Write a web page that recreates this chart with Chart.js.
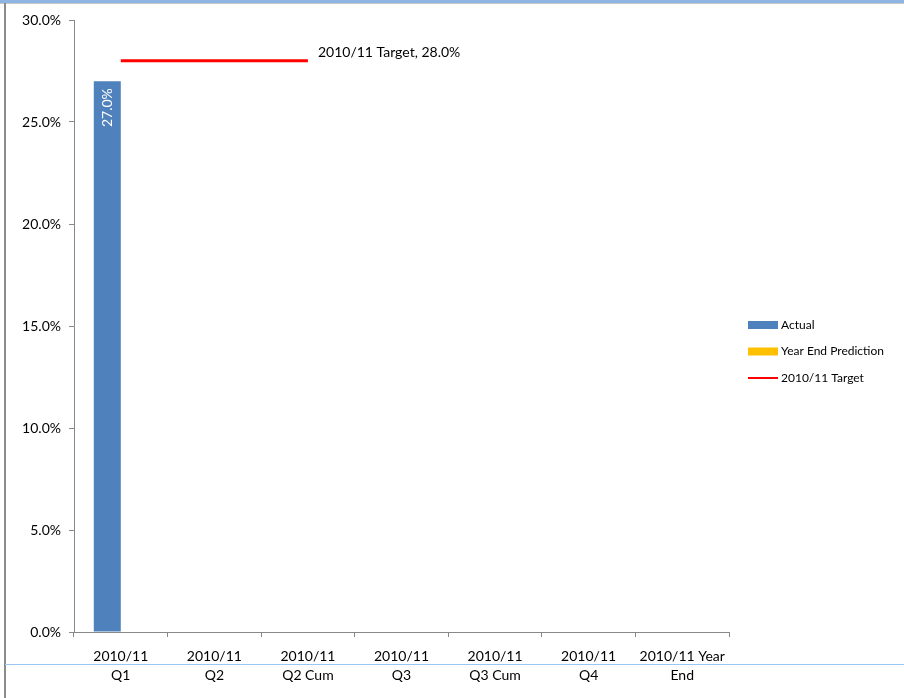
<!DOCTYPE html>
<html lang="en">
<head>
  <meta charset="UTF-8" />
  <title>2010/11 Target chart</title>
  <script src="https://cdn.jsdelivr.net/npm/chart.js"></script>
  <style>
    * { margin: 0; padding: 0; box-sizing: border-box; }
    body { background: white; width: 904px; height: 698px; overflow: hidden; position: relative; }
    .chart-box { position: absolute; left: 0; top: 0; width: 904px; height: 698px; }
    /* window edges from the original screenshot */
    .top-band { position: absolute; left: 0; top: 0; width: 904px; height: 3px; background: #8fb4e3; }
    .top-line { position: absolute; left: 0; top: 3px; width: 904px; height: 1px; background: #c8c8c8; }
    .left-line { position: absolute; left: 4px; top: 3px; width: 2px; height: 695px; background: #8c8c8c; }
    .row-line { position: absolute; left: 5px; top: 664px; width: 899px; height: 1px; background: #9cc6f2; }
  </style>
</head>
<body>
  <div class="chart-box"><canvas id="chart" width="904" height="698"></canvas></div>
  <div class="top-band"></div>
  <div class="top-line"></div>
  <div class="left-line"></div>
  <div class="row-line"></div>

<script>
  const categories = [
    ['2010/11', 'Q1'],
    ['2010/11', 'Q2'],
    ['2010/11', 'Q2 Cum'],
    ['2010/11', 'Q3'],
    ['2010/11', 'Q3 Cum'],
    ['2010/11', 'Q4'],
    ['2010/11 Year', 'End']
  ];
  const actual = [27.0, null, null, null, null, null, null];
  const yearEndPrediction = [null, null, null, null, null, null, null];
  const target = [28.0, 28.0, 28.0, null, null, null, null];
  const yTicks = [0, 5, 10, 15, 20, 25, 30];

  const fontFamily = 'Lato, "Open Sans", sans-serif';
  const pct = v => v.toFixed(1) + '%';

  // labels on the bars and at the end of the target line
  const dataLabels = {
    id: 'dataLabels',
    afterDatasetsDraw(chart) {
      const ctx = chart.ctx;
      ctx.save();
      const barMeta = chart.getDatasetMeta(0);
      barMeta.data.forEach((el, i) => {
        const v = actual[i];
        if (v == null) return;
        ctx.save();
        ctx.translate(el.x, el.y + 7);
        ctx.rotate(-Math.PI / 2);
        ctx.fillStyle = '#ffffff';
        ctx.font = '14px ' + fontFamily;
        ctx.textAlign = 'right';
        ctx.textBaseline = 'middle';
        ctx.fillText(pct(v), 0, 0);
        ctx.restore();
      });
      const lineMeta = chart.getDatasetMeta(2);
      let last = -1;
      target.forEach((v, i) => { if (v != null) last = i; });
      if (last >= 0) {
        const p = lineMeta.data[last];
        ctx.fillStyle = '#000000';
        ctx.font = '14px ' + fontFamily;
        ctx.textAlign = 'left';
        ctx.textBaseline = 'middle';
        ctx.fillText('2010/11 Target, ' + pct(target[last]), p.x + 10, p.y - 8);
      }
      ctx.restore();
    }
  };

  // legend drawn beside the plot, like the Excel one
  const sideLegend = {
    id: 'sideLegend',
    afterDraw(chart) {
      const ctx = chart.ctx;
      const x = chart.chartArea.right + 19;
      let y = 325;
      ctx.save();
      ctx.font = '12px ' + fontFamily;
      ctx.textBaseline = 'middle';
      ctx.textAlign = 'left';
      chart.data.datasets.forEach(ds => {
        if (ds.type === 'line') {
          ctx.fillStyle = ds.borderColor;
          ctx.fillRect(x, y - 1, 30, 2);
        } else {
          ctx.fillStyle = ds.backgroundColor;
          ctx.fillRect(x, y - 4, 30, 8);
        }
        ctx.fillStyle = '#000000';
        ctx.fillText(ds.label, x + 33, y);
        y += 26.5;
      });
      ctx.restore();
    }
  };

  new Chart(document.getElementById('chart'), {
    type: 'bar',
    data: {
      labels: categories,
      datasets: [
        { label: 'Actual', data: actual, backgroundColor: '#4f81bd', barPercentage: 1, categoryPercentage: 0.577, order: 2 },
        { label: 'Year End Prediction', data: yearEndPrediction, backgroundColor: '#ffc000', barPercentage: 1, categoryPercentage: 0.577, order: 2 },
        { type: 'line', label: '2010/11 Target', data: target, borderColor: '#ff0000', backgroundColor: '#ff0000', borderWidth: 3, pointRadius: 0, spanGaps: false, order: 1 }
      ]
    },
    options: {
      responsive: false,
      animation: false,
      layout: { padding: { top: 20, right: 175, left: 0, bottom: 0 } },
      plugins: {
        legend: { display: false },
        tooltip: { enabled: false }
      },
      scales: {
        x: {
          grid: { drawOnChartArea: false, offset: true, tickLength: 5, color: '#888888' },
          border: { color: '#888888' },
          ticks: {
            color: '#000000',
            font: { family: fontFamily, size: 14, lineHeight: 1.36 },
            padding: 10,
            maxRotation: 0,
            autoSkip: false
          },
          afterFit(s) { s.height = 66; }
        },
        y: {
          min: 0,
          max: 30,
          afterBuildTicks(s) { s.ticks = yTicks.map(v => ({ value: v })); },
          grid: { drawOnChartArea: false, tickLength: 5, color: '#888888' },
          border: { color: '#888888' },
          ticks: {
            color: '#000000',
            font: { family: fontFamily, size: 14 },
            padding: 8,
            callback: v => pct(v)
          },
          afterFit(s) { s.width = 74; }
        }
      }
    },
    plugins: [dataLabels, sideLegend]
  });
</script>
</body>
</html>
